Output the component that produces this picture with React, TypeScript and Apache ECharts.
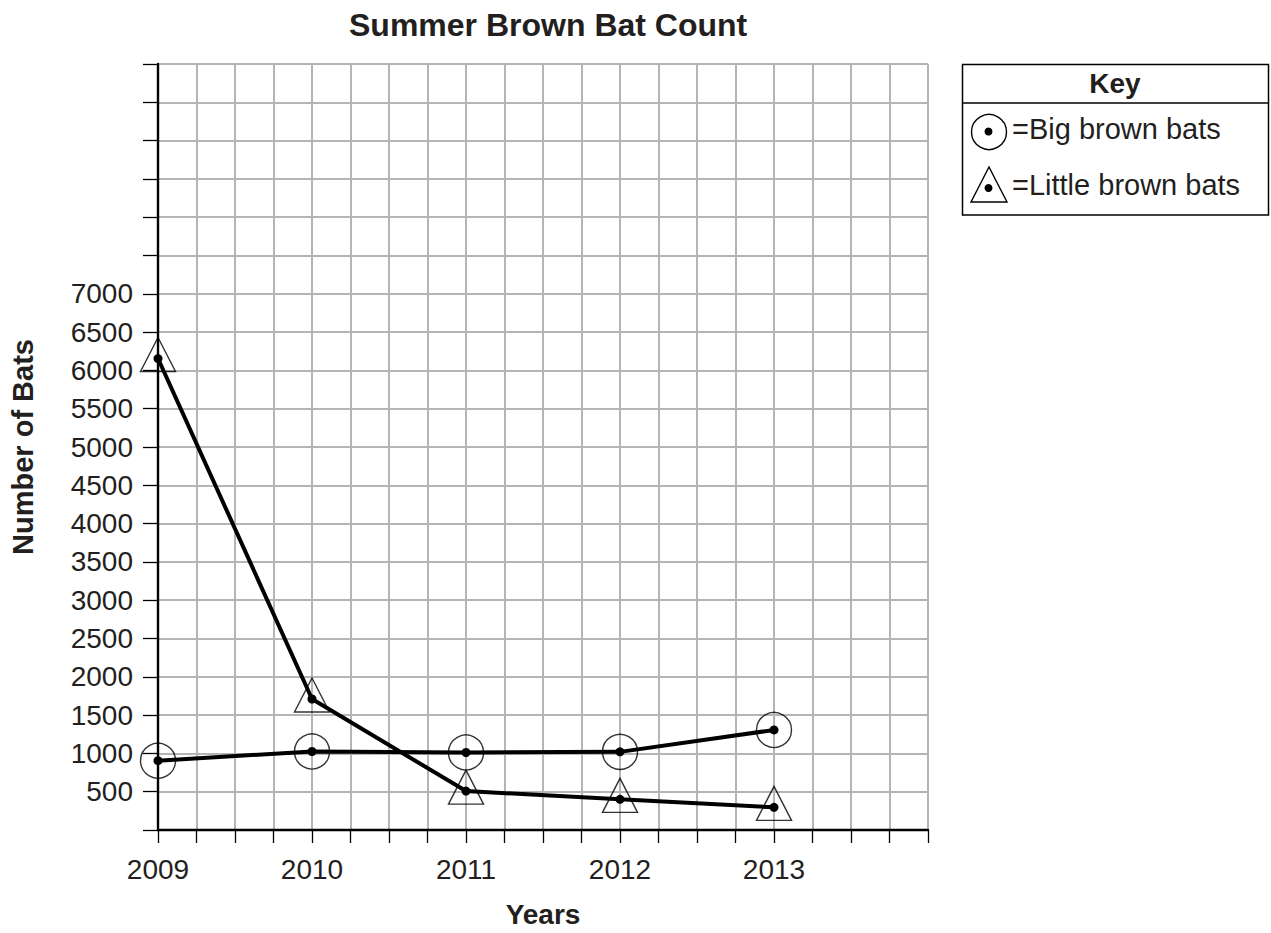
import React, { useEffect, useRef } from "react";
import * as echarts from "echarts";

const years = [2009, 2010, 2011, 2012, 2013];
const bigBrown = [905, 1025, 1012, 1020, 1306];
const littleBrown = [6155, 1710, 508, 400, 296];

const titleText = "Summer Brown Bat Count";
const xName = "Years";
const yName = "Number of Bats";
const keyTitle = "Key";
const bigLabel = "=Big brown bats";
const littleLabel = "=Little brown bats";

const FONT = "'Liberation Sans', Arial, Helvetica, sans-serif";
const TEXT = "#231f20";

export default function App() {
  const ref = useRef<HTMLDivElement>(null);
  useEffect(() => {
    document.body.style.margin = "0";
    if (!ref.current) return;
    const chart = echarts.init(ref.current, undefined, { renderer: "svg" });
    const bigPts = years.map((y, i) => [y, bigBrown[i]]);
    const littlePts = years.map((y, i) => [y, littleBrown[i]]);
    chart.setOption({
      animation: false,
      backgroundColor: "#ffffff",
      textStyle: { fontFamily: FONT, color: TEXT },
      title: {
        text: titleText,
        left: 344,
        top: 4,
        textStyle: { fontFamily: FONT, fontSize: 32, fontWeight: "bold", color: TEXT },
      },
      grid: { left: 158, right: 343, top: 64, bottom: 101, containLabel: false },
      xAxis: {
        type: "value",
        min: 2009,
        max: 2014,
        interval: 0.25,
        name: xName,
        nameLocation: "middle",
        nameGap: 70,
        nameTextStyle: { fontFamily: FONT, fontSize: 28, fontWeight: "bold", color: TEXT },
        axisLine: { show: true, lineStyle: { color: "#000", width: 2.4 } },
        axisTick: { show: true, length: 13, lineStyle: { color: "#000", width: 1.3 } },
        axisLabel: {
          margin: 25,
          fontFamily: FONT,
          fontSize: 28,
          color: TEXT,
          formatter: (v: number) => (Number.isInteger(v) && v < 2014 ? String(v) : ""),
        },
        splitLine: { show: true, lineStyle: { color: "#b5b5b5", width: 2 } },
      },
      yAxis: {
        type: "value",
        min: 0,
        max: 10000,
        interval: 500,
        name: yName,
        nameLocation: "middle",
        nameGap: 121,
        nameTextStyle: { fontFamily: FONT, fontSize: 29, fontWeight: "bold", color: TEXT },
        axisLine: { show: true, lineStyle: { color: "#000", width: 2.4 } },
        axisTick: { show: true, length: 15, lineStyle: { color: "#000", width: 1.3 } },
        axisLabel: {
          margin: 25,
          fontFamily: FONT,
          fontSize: 28,
          color: TEXT,
          formatter: (v: number) => (v > 0 && v <= 7000 ? String(v) : ""),
        },
        splitLine: { show: true, lineStyle: { color: "#b5b5b5", width: 2 } },
      },
      series: [
        {
          name: "Big brown bats marker",
          type: "scatter",
          data: bigPts,
          symbol: "circle",
          symbolSize: 35,
          clip: false,
          z: 3,
          itemStyle: { color: "rgba(0,0,0,0)", borderColor: "#000", borderWidth: 1.4 },
          silent: true,
        },
        {
          name: "Little brown bats marker",
          type: "scatter",
          data: littlePts,
          symbol: "triangle",
          symbolSize: [35, 34],
          symbolOffset: [0, -4],
          clip: false,
          z: 3,
          itemStyle: { color: "rgba(0,0,0,0)", borderColor: "#000", borderWidth: 1.4 },
          silent: true,
        },
        {
          name: "Big brown bats",
          type: "line",
          data: bigPts,
          symbol: "circle",
          symbolSize: 9,
          showAllSymbol: true,
          clip: false,
          z: 4,
          lineStyle: { color: "#000", width: 4 },
          itemStyle: { color: "#000", borderWidth: 0 },
        },
        {
          name: "Little brown bats",
          type: "line",
          data: littlePts,
          symbol: "circle",
          symbolSize: 9,
          showAllSymbol: true,
          clip: false,
          z: 4,
          lineStyle: { color: "#000", width: 4 },
          itemStyle: { color: "#000", borderWidth: 0 },
        },
      ],
      graphic: [
        {
          type: "rect",
          shape: { x: 962.5, y: 64.5, width: 306, height: 150.5 },
          style: { fill: "#fff", stroke: "#000", lineWidth: 1.5 },
        },
        {
          type: "line",
          shape: { x1: 962.5, y1: 103, x2: 1268.5, y2: 103 },
          style: { stroke: "#000", lineWidth: 1.5 },
        },
        {
          type: "text",
          x: 1115,
          y: 83,
          style: {
            text: keyTitle,
            fontFamily: FONT,
            fontSize: 28,
            fontWeight: "bold",
            fill: TEXT,
            align: "center",
            verticalAlign: "middle",
          },
        },
        {
          type: "circle",
          shape: { cx: 989, cy: 132, r: 17.5 },
          style: { fill: "none", stroke: "#000", lineWidth: 1.4 },
        },
        {
          type: "circle",
          shape: { cx: 988.5, cy: 131.5, r: 4 },
          style: { fill: "#000" },
        },
        {
          type: "polygon",
          shape: { points: [[971, 202], [1007, 202], [989, 167]] },
          style: { fill: "none", stroke: "#000", lineWidth: 1.4 },
        },
        {
          type: "circle",
          shape: { cx: 988.5, cy: 188, r: 4 },
          style: { fill: "#000" },
        },
        {
          type: "text",
          x: 1012,
          y: 129,
          style: {
            text: bigLabel,
            fontFamily: FONT,
            fontSize: 29,
            fill: TEXT,
            align: "left",
            verticalAlign: "middle",
          },
        },
        {
          type: "text",
          x: 1012,
          y: 185,
          style: {
            text: littleLabel,
            fontFamily: FONT,
            fontSize: 29,
            fill: TEXT,
            align: "left",
            verticalAlign: "middle",
          },
        },
      ],
    });
    return () => chart.dispose();
  }, []);
  return <div ref={ref} style={{ width: 1271, height: 933 }} />;
}
